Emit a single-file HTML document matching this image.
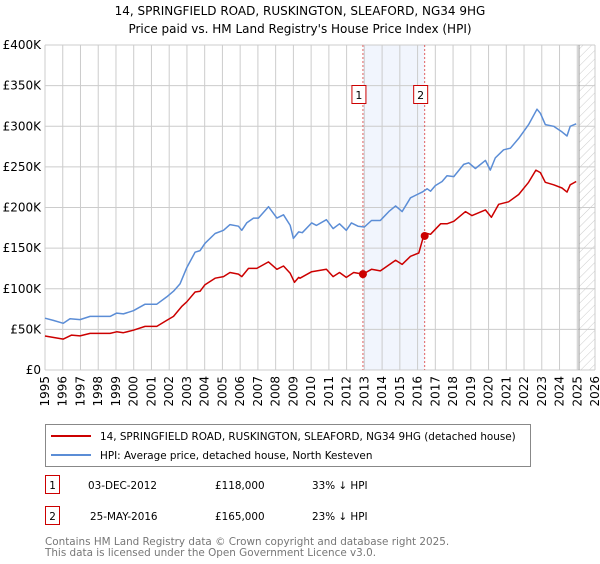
<!DOCTYPE html>
<html><head><meta charset="utf-8"><style>
body{margin:0;background:#fff;font-family:"DejaVu Sans","Liberation Sans",sans-serif;}
svg text{font-family:"DejaVu Sans","Liberation Sans",sans-serif;}
</style></head><body>
<svg id="chart" width="600" height="560" xmlns="http://www.w3.org/2000/svg">
<defs><pattern id="hatch" width="6" height="6" patternUnits="userSpaceOnUse" patternTransform="rotate(45)"><line x1="0" y1="0" x2="0" y2="6" stroke="#ccc" stroke-width="1"/></pattern></defs>
<text x="300" y="15" text-anchor="middle" font-size="12" fill="#000">14, SPRINGFIELD ROAD, RUSKINGTON, SLEAFORD, NG34 9HG</text>
<text x="300" y="33" text-anchor="middle" font-size="12" fill="#000">Price paid vs. HM Land Registry's House Price Index (HPI)</text>
<g id="grid"></g><g id="marks"></g><g id="axes"></g>
<g>
<rect x="45.5" y="424.5" width="485" height="42" fill="#fff" stroke="#888"/>
<line x1="51" y1="436" x2="91" y2="436" stroke="#cc0000" stroke-width="2"/>
<text x="100" y="440" font-size="10.4">14, SPRINGFIELD ROAD, RUSKINGTON, SLEAFORD, NG34 9HG (detached house)</text>
<line x1="51" y1="455" x2="91" y2="455" stroke="#5b8dd6" stroke-width="2"/>
<text x="100" y="459" font-size="10.4">HPI: Average price, detached house, North Kesteven</text>
</g>
<g font-size="10.4">
<rect x="45.5" y="475.5" width="14" height="18" fill="#fff" stroke="#cc0000"/>
<text x="52.5" y="489" text-anchor="middle">1</text>
<text x="88" y="489">03-DEC-2012</text>
<text x="215" y="489">£118,000</text>
<text x="312" y="489">33% ↓ HPI</text>
<rect x="45.5" y="506.5" width="14" height="18" fill="#fff" stroke="#cc0000"/>
<text x="52.5" y="520" text-anchor="middle">2</text>
<text x="90" y="520">25-MAY-2016</text>
<text x="215" y="520">£165,000</text>
<text x="312" y="520">23% ↓ HPI</text>
</g>
<text x="45" y="545" font-size="10.4" fill="#777">Contains HM Land Registry data © Crown copyright and database right 2025.</text>
<text x="45" y="556" font-size="10.4" fill="#777">This data is licensed under the Open Government Licence v3.0.</text>
</svg>
<script>
const yTicks=[0,50000,100000,150000,200000,250000,300000,350000,400000];
const yTickLabels=["£0","£50K","£100K","£150K","£200K","£250K","£300K","£350K","£400K"];
const xYears=[1995,1996,1997,1998,1999,2000,2001,2002,2003,2004,2005,2006,2007,2008,2009,2010,2011,2012,2013,2014,2015,2016,2017,2018,2019,2020,2021,2022,2023,2024,2025,2026];
const hpiYears=[1995.0,1995.47,1996.03,1996.41,1996.97,1997.54,1998.67,1999.04,1999.42,1999.98,2000.64,2001.3,2001.86,2002.24,2002.61,2002.99,2003.46,2003.74,2004.02,2004.59,2005.06,2005.43,2005.9,2006.09,2006.37,2006.75,2007.03,2007.6,2008.07,2008.44,2008.82,2009.0,2009.3,2009.5,2010.03,2010.3,2010.86,2011.24,2011.6,2011.98,2012.27,2012.64,2013.0,2013.4,2013.9,2014.38,2014.76,2015.13,2015.6,2015.98,2016.26,2016.54,2016.73,2017.0,2017.38,2017.66,2018.04,2018.6,2018.88,2019.26,2019.82,2020.1,2020.38,2020.85,2021.23,2021.7,2022.26,2022.73,2022.92,2023.2,2023.67,2024.14,2024.42,2024.6,2024.94];
const hpiValues=[63.7,61,57.5,63,62,66,66,70,69,73,81,81,90,97,106,126,145,147,156,168,172,179,177,172,181,187,187,201,187,191,178,162,170,169,181,178,185,174,180,172,181,177,176,184,184,195,202,195,212,216,219,223,220,227,232,239,238,253,255,248,258,246,261,271,273,285,302,321,316,302,300,293,288,300,303];
const ppYears=[1995.0,1996.03,1996.5,1996.97,1997.54,1998.67,1999.04,1999.42,1999.98,2000.64,2001.3,2001.86,2002.24,2002.7,2002.99,2003.46,2003.74,2004.02,2004.59,2005.06,2005.43,2005.9,2006.09,2006.47,2006.94,2007.6,2008.07,2008.44,2008.82,2009.06,2009.3,2009.37,2010.03,2010.86,2011.24,2011.6,2011.98,2012.4,2012.92,2013.4,2013.9,2014.76,2015.13,2015.6,2016.07,2016.3,2016.4,2016.54,2016.73,2017.3,2017.66,2018.04,2018.7,2019.07,2019.82,2020.16,2020.57,2021.13,2021.7,2022.26,2022.67,2022.92,2023.2,2023.67,2024.14,2024.42,2024.6,2024.94];
const ppValues=[41.9,38,43,42,45,45,47,45.9,49,53.6,53.6,61,66,78,84,96,97,105,113,115,120,118,115,125,125,133,124,128,119,108,114,113,121,124,115,120,114,120,118,124,122,135,130,140,144,162,165,168,167,180,180,183,195,190,197,188,204,207,216,231,246,243,231,228,224,219,228,232];
const saleYears=[2012.92,2016.4];
const saleValues=[118000,165000];
const saleLabels=["1","2"];
const NS="http://www.w3.org/2000/svg";
const L=45,R=595,T=45,B=370;
const X0=1995,X1=2026,YMAX=400000;
function xs(y){return L+(y-X0)/(X1-X0)*(R-L);}
function ys(v){return B-v/YMAX*(B-T);}
function mk(tag,attrs,parent){const e=document.createElementNS(NS,tag);for(const k in attrs)e.setAttribute(k,attrs[k]);parent.appendChild(e);return e;}
const grid=document.getElementById('grid'),marks=document.getElementById('marks'),axes=document.getElementById('axes');
let sh=mk('rect',{x:xs(saleYears[0]),y:T,width:xs(saleYears[1])-xs(saleYears[0]),height:B-T,fill:'#eef3fc',opacity:0.8},grid);


yTicks.forEach((v,i)=>{
 let g=mk('line',{x1:L,x2:R,y1:ys(v),y2:ys(v),stroke:'#ccc','stroke-width':1},grid);
 
 
 let t=mk('text',{x:L-4,y:ys(v)+4,'text-anchor':'end','font-size':12},axes);
 t.textContent=yTickLabels[i];
 
 
});
xYears.forEach(yr=>{
 let g=mk('line',{x1:xs(yr),x2:xs(yr),y1:T,y2:B,stroke:'#ccc','stroke-width':1},grid);
 
 
 let t=mk('text',{x:0,y:0,'text-anchor':'end','font-size':12,transform:`translate(${xs(yr)+4},${B+6}) rotate(-90)`},axes);
 t.textContent=yr;
 
 
});
let hz=mk('rect',{x:xs(2025.1),y:T,width:R-xs(2025.1),height:B-T,fill:'url(#hatch)'},grid);


let hl=mk('line',{x1:xs(2025.1),x2:xs(2025.1),y1:T,y2:B,stroke:'#999','stroke-width':1},grid);


saleYears.forEach((yr,i)=>{
 let d=mk('line',{x1:xs(yr),x2:xs(yr),y1:T,y2:B,stroke:'#e06060','stroke-width':1,'stroke-dasharray':'2,2'},grid);
 
 
});
function path(xsArr,vs,color,name){
 let d=xsArr.map((y,i)=>(i?'L':'M')+xs(y).toFixed(1)+','+ys(vs[i]*1000).toFixed(1)).join(' ');
 let p=mk('path',{d:d,fill:'none',stroke:color,'stroke-width':1.5,'stroke-linejoin':'round'},marks);
 
 
}
path(hpiYears,hpiValues,'#5b8dd6','hpi-line');
path(ppYears,ppValues,'#cc0000','property-price-line');
saleYears.forEach((yr,i)=>{
 let c=mk('circle',{cx:xs(yr),cy:ys(saleValues[i]),r:4,fill:'#cc0000'},marks);
 
 
 let r=mk('rect',{x:xs(yr)-11,y:85.5,width:14,height:18,fill:'#fff',stroke:'#cc0000'},marks);
 
 
 let t=mk('text',{x:xs(yr)-4,y:99,'text-anchor':'middle','font-size':11},marks);
 t.textContent=saleLabels[i];
 
 
});
</script>
</body></html>
